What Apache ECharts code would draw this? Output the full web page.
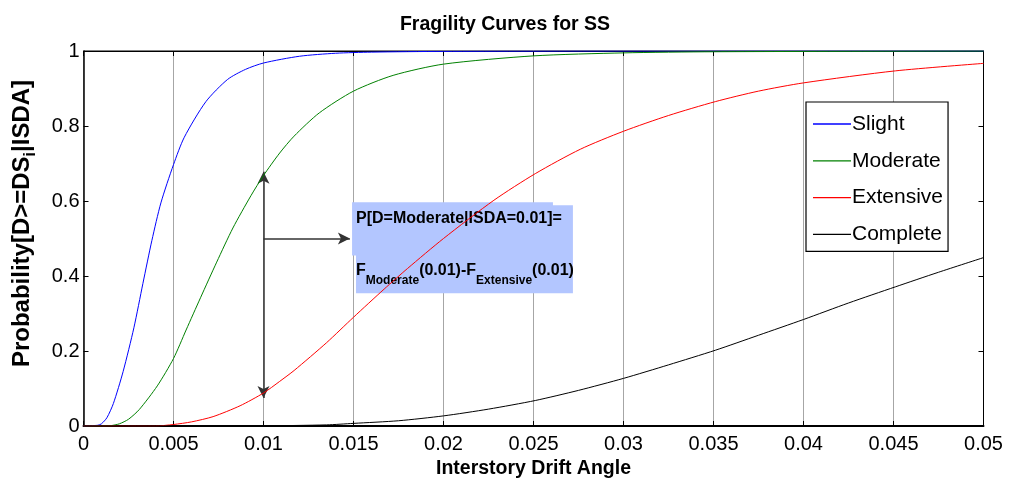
<!DOCTYPE html>
<html>
<head>
<meta charset="utf-8">
<script src="https://cdn.jsdelivr.net/npm/echarts@6/dist/echarts.min.js"></script>
<style>html,body{margin:0;padding:0;background:#fff}#c{width:1010px;height:487px}</style>
</head>
<body>
<div id="c"></div>
<script>
// ---- data ----
const seriesNames = ['Slight', 'Moderate', 'Extensive', 'Complete'];
const xTickLabels = ['0','0.005','0.01','0.015','0.02','0.025','0.03','0.035','0.04','0.045','0.05'];
const yTickLabels = ['0','0.2','0.4','0.6','0.8','1'];

const slight = [[0,0],[0.0008,0.002],[0.001,0.006],[0.0013,0.022],[0.00166,0.06],[0.0022,0.145],[0.0028,0.262],[0.0033,0.38],[0.0038,0.495],[0.0043,0.595],[0.005,0.697],[0.0056,0.77],[0.0068,0.865],[0.008,0.924],[0.009,0.951],[0.01,0.968],[0.012,0.986],[0.014,0.994],[0.016,0.997],[0.02,0.999],[0.03,1],[0.05,1]];
const moderate = [[0,0],[0.0015,0.001],[0.002,0.006],[0.0025,0.018],[0.0031,0.044],[0.0041,0.107],[0.005,0.18],[0.0057,0.256],[0.0065,0.342],[0.0074,0.437],[0.0083,0.528],[0.0093,0.614],[0.01,0.668],[0.0109,0.728],[0.0117,0.773],[0.0131,0.835],[0.015,0.893],[0.0172,0.935],[0.02,0.965],[0.025,0.987],[0.03,0.995],[0.035,0.998],[0.05,1]];
const extensive = [[0,0],[0.004,0],[0.005,0.004],[0.006,0.011],[0.0072,0.025],[0.0087,0.054],[0.01,0.088],[0.0109,0.119],[0.0117,0.148],[0.0135,0.222],[0.015,0.29],[0.0167,0.365],[0.018,0.42],[0.02,0.5],[0.0228,0.602],[0.0251,0.673],[0.0276,0.738],[0.03,0.786],[0.0325,0.828],[0.0351,0.865],[0.0375,0.893],[0.04,0.915],[0.0451,0.947],[0.05,0.967]];
const complete = [[0,0],[0.01,0.0005],[0.0135,0.003],[0.015,0.007],[0.0175,0.014],[0.02,0.027],[0.0225,0.045],[0.0251,0.068],[0.0275,0.095],[0.03,0.127],[0.0325,0.163],[0.0351,0.202],[0.0375,0.242],[0.04,0.284],[0.0425,0.328],[0.0451,0.371],[0.0475,0.41],[0.05,0.449]];

// annotation (data coordinates)
const arrowX = 0.01;
const arrowLow = 0.075;
const arrowHigh = 0.678;
const hArrowY = 0.5;
const hArrowEndX = 0.0148;
const boxA = [[0.01492, 0.455], [0.02608, 0.5965]];
const boxB = [[0.01514, 0.354], [0.02719, 0.5885]];

const colors = ['#0000ff', '#008000', '#ff0000', '#000000'];
const FONT = '"Liberation Sans Narrow", "Arial Narrow", "Liberation Sans", Arial, sans-serif';

const chart = echarts.init(document.getElementById('c'), null, {renderer: 'canvas'});
const datasets = [slight, moderate, extensive, complete];

const lineSeries = datasets.map((d, i) => ({
  name: seriesNames[i],
  type: 'line',
  data: d,
  showSymbol: false,
  smooth: 0.25,
  lineStyle: {color: colors[i], width: 1},
  itemStyle: {color: colors[i]},
  z: 5
}));

const annoSeries = {
  name: 'annotation',
  type: 'line',
  data: [],
  silent: true,
  markArea: {
    silent: true,
    itemStyle: {color: '#b3c6ff'},
    data: [
      [{coord: boxA[0]}, {coord: boxA[1]}],
      [{coord: boxB[0], label: {
        show: true,
        position: 'insideTopLeft',
        distance: 0,
        offset: [0, 0],
        formatter: '{a|P[D=Moderate|ISDA=0.01]=}\n{g|}\n{a|F}{s|Moderate}{a|(0.01)-F}{s|Extensive}{a|(0.01)}',
        rich: {
          a: {fontFamily: FONT, fontWeight: 'bold', fontSize: 16, color: '#000', lineHeight: 26},
          s: {fontFamily: FONT, fontWeight: 'bold', fontSize: 12, color: '#000', lineHeight: 14, padding: [20, 0, 0, 0]},
          g: {lineHeight: 26, fontSize: 4}
        }
      }}, {coord: boxB[1]}]
    ]
  },
  markLine: {
    silent: true,
    animation: false,
    lineStyle: {color: '#333', width: 1.5, type: 'solid'},
    label: {show: false},
    symbolSize: [9, 12],
    data: [
      [{coord: [arrowX, arrowLow], symbol: 'arrow'}, {coord: [arrowX, arrowHigh], symbol: 'arrow'}],
      [{coord: [arrowX, hArrowY], symbol: 'none'}, {coord: [hArrowEndX, hArrowY], symbol: 'arrow'}]
    ]
  },
  z: 3
};

const option = {
  animation: false,
  backgroundColor: '#fff',
  title: {
    text: 'Fragility Curves for SS',
    left: 'center',
    top: 10,
    textStyle: {fontFamily: FONT, fontWeight: 'bold', fontSize: 19.5, color: '#000'}
  },
  grid: {left: 83.5, right: 26.5, top: 51, bottom: 61, show: true, borderColor: '#000', borderWidth: 1, backgroundColor: 'transparent', outerBoundsMode: 'none', containLabel: false},
  legend: {
    data: seriesNames,
    orient: 'vertical',
    left: 806,
    top: 102,
    backgroundColor: '#fff',
    borderColor: '#000',
    borderWidth: 1.2,
    borderRadius: 0,
    padding: [9, 5, 4, 7],
    itemGap: 10.8,
    itemWidth: 38,
    itemHeight: 1.3,
    icon: 'rect',
    textStyle: {fontFamily: FONT, fontSize: 21, color: '#000', lineHeight: 26, padding: [0, 0, 0, -4]},
    selectedMode: false
  },
  xAxis: [{
    type: 'value', min: 0, max: 0.05, interval: 0.005,
    position: 'bottom',
    name: 'Interstory Drift Angle',
    nameLocation: 'middle',
    nameGap: 29,
    nameTextStyle: {fontFamily: FONT, fontWeight: 'bold', fontSize: 19.5, color: '#000'},
    axisLine: {show: true, onZero: false, lineStyle: {color: '#000', width: 2}},
    axisTick: {show: true, inside: true, length: 5, lineStyle: {color: '#000'}},
    axisLabel: {
      fontFamily: FONT, fontSize: 20, color: '#000', margin: 8,
      formatter: v => xTickLabels[Math.round(v / 0.005)]
    },
    splitLine: {show: true, lineStyle: {color: '#a6a6a6', width: 1}}
  }, {
    type: 'value', min: 0, max: 0.05, interval: 0.005,
    position: 'top',
    axisLine: {show: true, onZero: false, lineStyle: {color: '#000', width: 1}},
    axisTick: {show: true, inside: true, length: 5, lineStyle: {color: '#000'}},
    axisLabel: {show: false},
    splitLine: {show: false}
  }],
  yAxis: [{
    type: 'value', min: 0, max: 1, interval: 0.2,
    position: 'left',
    name: '{a|Probability[D>=DS}{s|i}{a|\u007CISDA]}',
    nameLocation: 'middle',
    nameGap: 48,
    nameRotate: 90,
    nameTextStyle: {
      padding: [0, 0, 0, 30],
      rich: {
        a: {fontFamily: FONT, fontWeight: 'bold', fontSize: 24, color: '#000', lineHeight: 26},
        s: {fontFamily: FONT, fontWeight: 'bold', fontSize: 16, color: '#000', lineHeight: 16, padding: [17, 0, 0, 0]}
      }
    },
    axisLine: {show: true, onZero: false, lineStyle: {color: '#000', width: 1.5}},
    axisTick: {show: true, inside: true, length: 5, lineStyle: {color: '#000'}},
    axisLabel: {
      fontFamily: FONT, fontSize: 20, color: '#000', margin: 4,
      formatter: v => yTickLabels[Math.round(v / 0.2)]
    },
    splitLine: {show: false}
  }, {
    type: 'value', min: 0, max: 1, interval: 0.2,
    position: 'right',
    axisLine: {show: true, onZero: false, lineStyle: {color: '#000', width: 1}},
    axisTick: {show: true, inside: true, length: 5, lineStyle: {color: '#000'}},
    axisLabel: {show: false},
    splitLine: {show: false}
  }],
  series: [annoSeries].concat(lineSeries)
};
chart.setOption(option);
</script>
</body>
</html>
